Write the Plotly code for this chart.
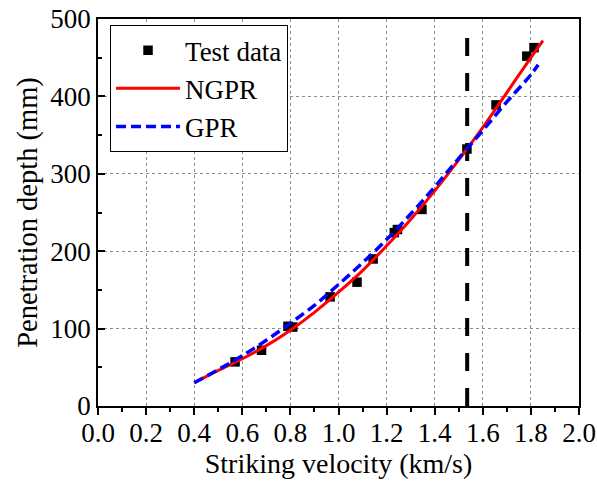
import plotly.graph_objects as go

# Test data
test_v = [0.57, 0.68, 0.79, 0.81, 0.965, 1.077, 1.144, 1.232, 1.245, 1.347, 1.534, 1.655, 1.783, 1.813]
test_p = [57, 72, 103, 102, 141, 160, 190, 224, 228, 254, 332, 389, 452, 463]

# NGPR curve (read samples)
ngpr_v = [0.4, 0.5, 0.6, 0.7, 0.8, 0.9, 1.0, 1.1, 1.2, 1.3, 1.4, 1.5, 1.6, 1.7, 1.8, 1.85]
ngpr_p = [30, 46, 61, 78, 98, 121, 147, 175, 207, 241, 278, 318, 360, 405, 450, 472]

# GPR curve (read samples)
gpr_v = [0.4, 0.5, 0.6, 0.7, 0.8, 0.9, 1.0, 1.1, 1.2, 1.3, 1.4, 1.5, 1.6, 1.7, 1.8, 1.83]
gpr_p = [30, 47, 65, 85, 107, 130, 157, 185, 215, 248, 283, 320, 356, 393, 428, 441]

# Vertical reference line
ref_v = [1.535, 1.535]
ref_p = [0, 488]

FONT = "Liberation Serif"

fig = go.Figure()
fig.add_trace(go.Scatter(x=ref_v, y=ref_p, mode="lines", showlegend=False,
                         line=dict(color="black", width=4, dash="18px,17px")))
fig.add_trace(go.Scatter(x=test_v, y=test_p, mode="markers", name="Test data",
                         marker=dict(symbol="square", size=9.5, color="black")))
fig.add_trace(go.Scatter(x=ngpr_v, y=ngpr_p, mode="lines", name="NGPR",
                         line=dict(color="#ff0000", width=3, shape="spline")))
fig.add_trace(go.Scatter(x=gpr_v, y=gpr_p, mode="lines", name="GPR",
                         line=dict(color="#0000ff", width=3.5, dash="10px,5px", shape="spline")))

fig.update_layout(
    width=597, height=482,
    margin=dict(l=98, r=18, t=19, b=76),
    paper_bgcolor="white", plot_bgcolor="white",
    font=dict(family=FONT, size=27, color="black"),
    legend=dict(x=0.025, y=0.984, xanchor="left", yanchor="top",
                bordercolor="black", borderwidth=1, bgcolor="white",
                font=dict(family=FONT, size=27), itemwidth=64,
                tracegroupgap=0),
    xaxis=dict(range=[0, 2], dtick=0.2, tick0=0, tickformat=".1f", automargin=False,
               showline=True, mirror=True, linecolor="black", linewidth=1.5,
               ticks="outside", ticklen=7, tickwidth=1.5, tickcolor="black",
               ticklabelstandoff=-5,
               showgrid=True, gridcolor="#8c8c8c", griddash="dot", gridwidth=1,
               zeroline=False,
               minor=dict(dtick=0.1, ticks="outside", ticklen=4, tickwidth=1.5, tickcolor="black", showgrid=False),
               title=dict(text="Striking velocity (km/s)", standoff=0, font=dict(family=FONT, size=28)),
               tickfont=dict(family=FONT, size=27)),
    yaxis=dict(range=[0, 500], dtick=100, tick0=0, automargin=False,
               showline=True, mirror=True, linecolor="black", linewidth=1.5,
               ticks="inside", ticklen=7, tickwidth=1.5, tickcolor="black",
               showgrid=True, gridcolor="#8c8c8c", griddash="dot", gridwidth=1,
               zeroline=False,
               minor=dict(dtick=50, ticks="inside", ticklen=4, tickwidth=1.5, tickcolor="black", showgrid=False),
               title=dict(text="Penetration depth (mm)", standoff=4, font=dict(family=FONT, size=28.5)),
               tickfont=dict(family=FONT, size=27)),
)

fig.write_html("out.html", config={"displayModeBar": False},
               post_script="document.body.style.margin='0';")
